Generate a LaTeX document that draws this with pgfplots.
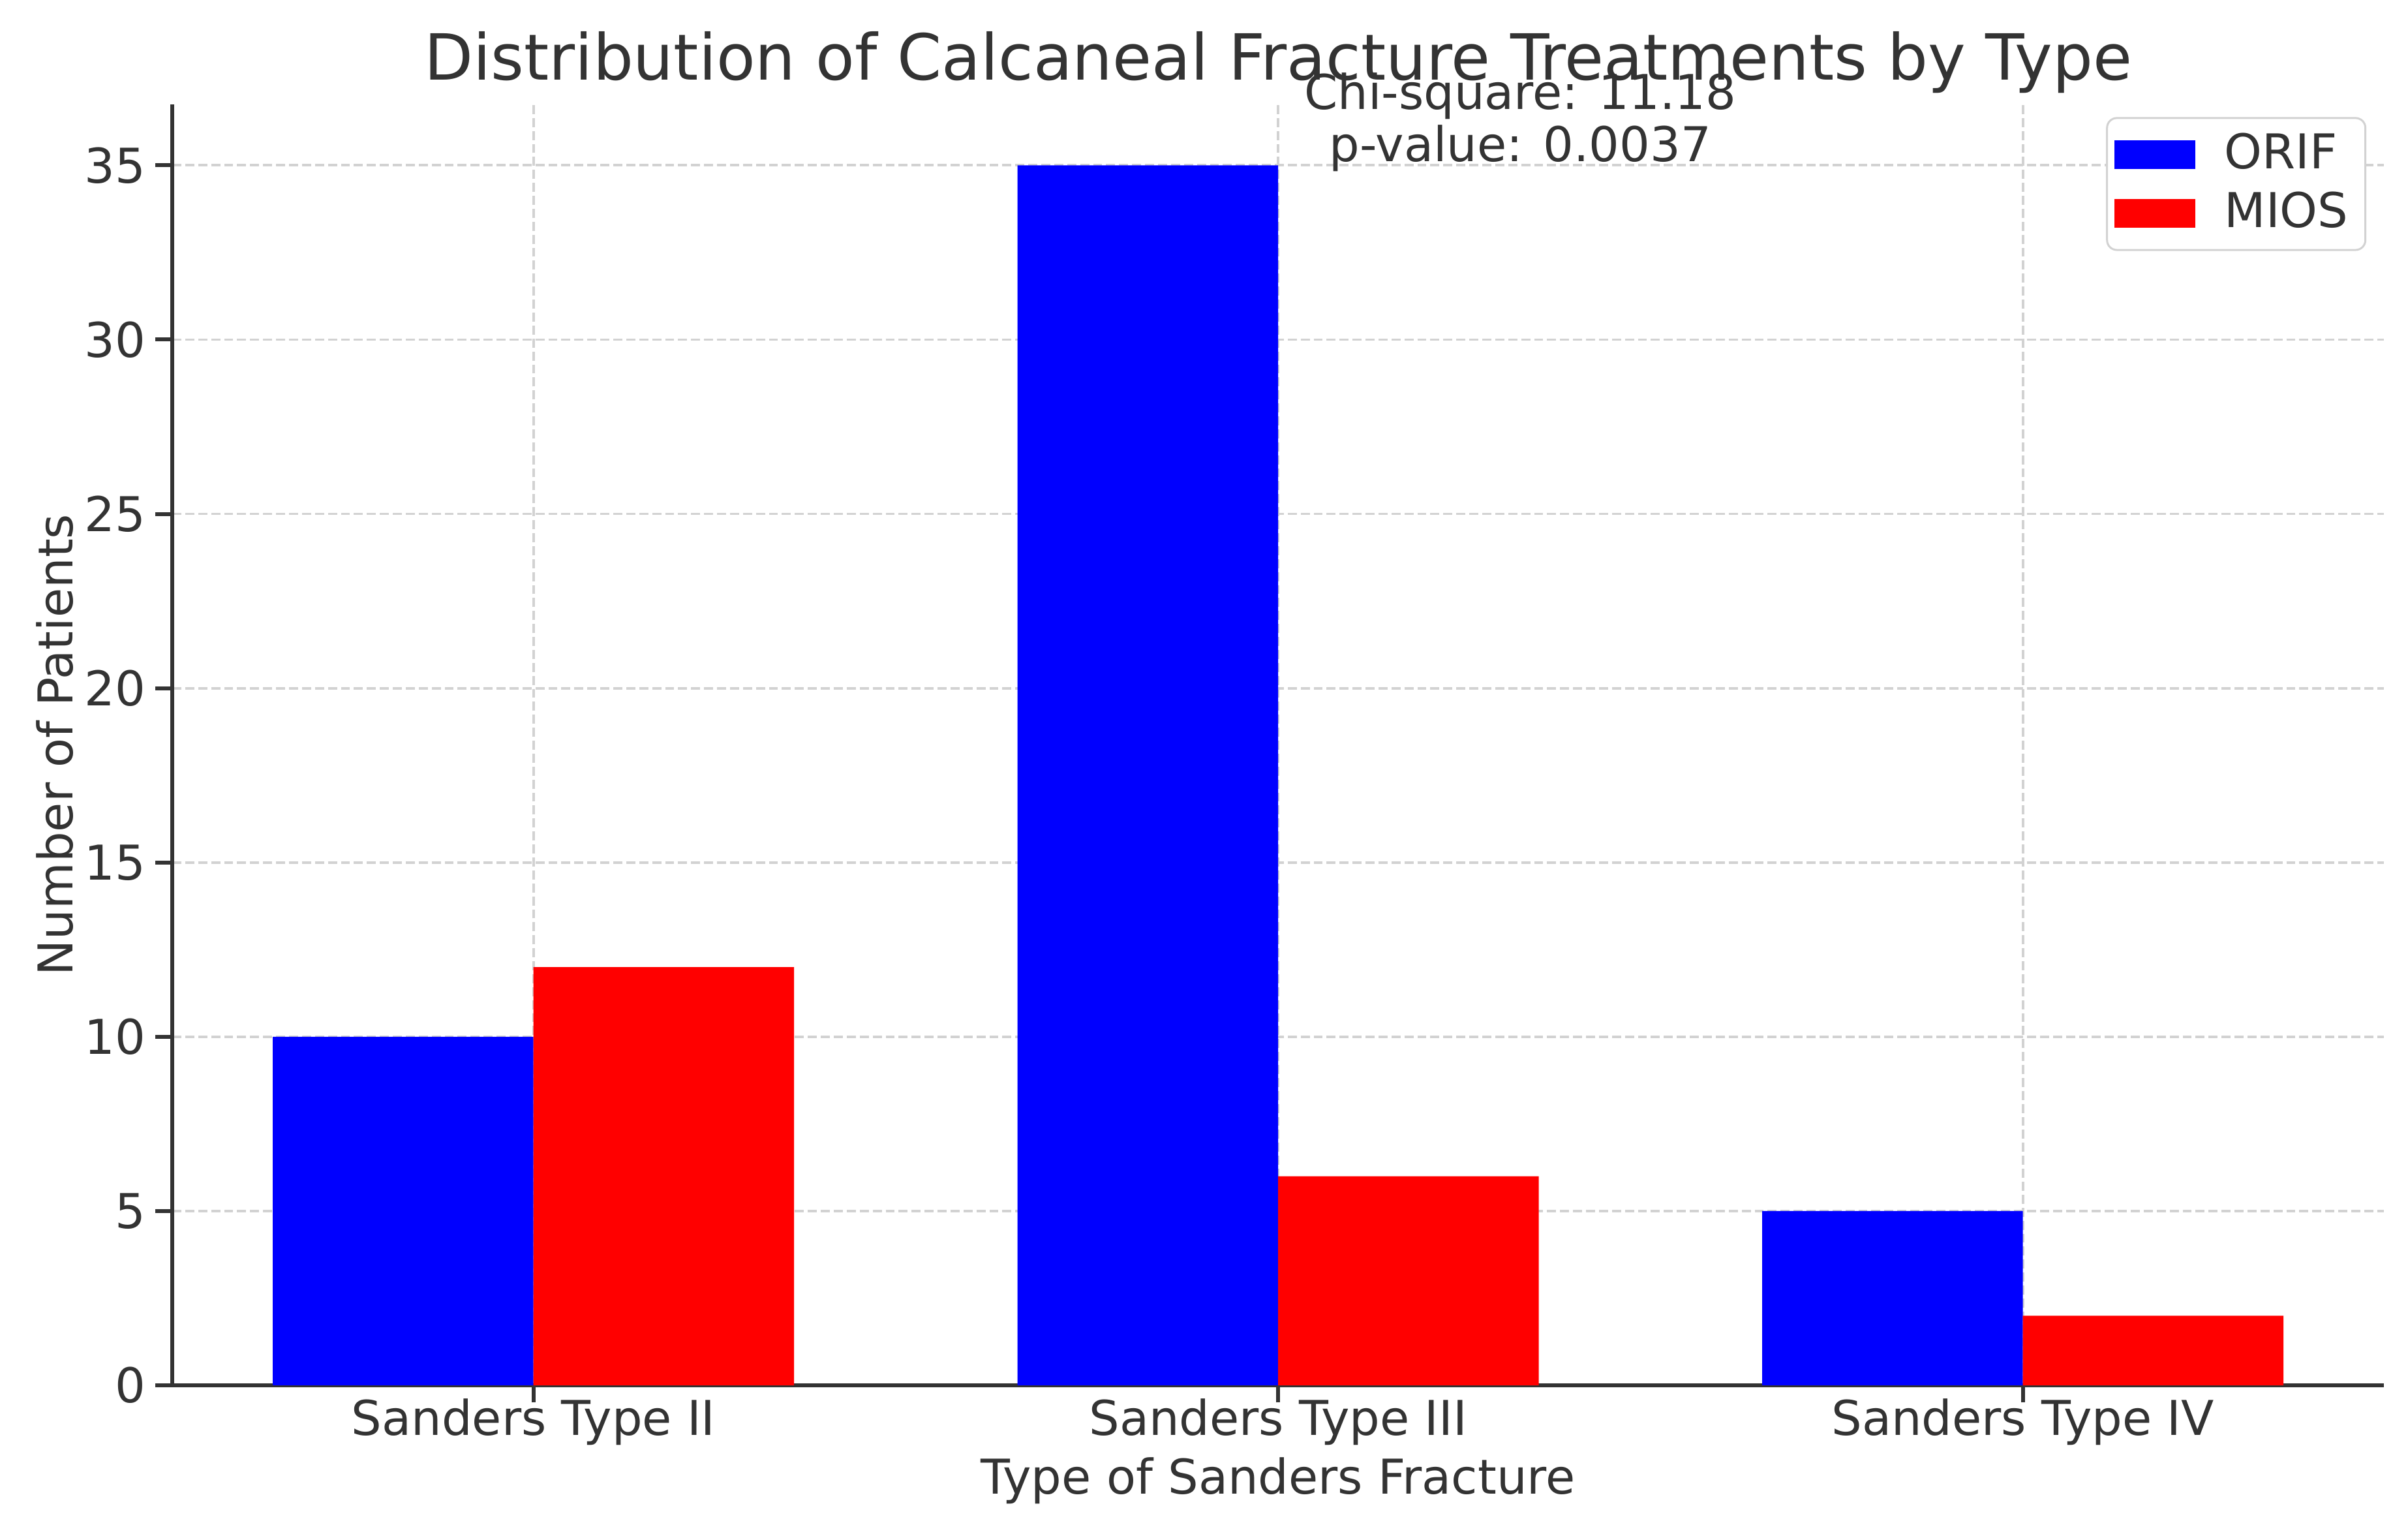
\documentclass[border=0pt]{standalone}
\usepackage{pgfplots}
\pgfplotsset{compat=1.18}
\usepackage{fontspec}
\setmainfont{DejaVu Sans}
\definecolor{txt}{HTML}{333333}
\definecolor{gridc}{HTML}{D2D2D2}

\begin{document}
\begin{tikzpicture}
\useasboundingbox (-35.2pt,-28pt) rectangle (456.8pt,283pt);
\begin{axis}[
    scale only axis,
    width=451.9pt, height=261.7pt,
    clip=false,
    ybar, bar width=0.35,
    xmin=-0.485, xmax=2.485,
    ymin=0, ymax=36.75,
    xtick={0,1,2},
    xticklabels={Sanders Type II, Sanders Type III, Sanders Type IV},
    ytick={0,5,...,35},
    axis x line*=bottom, axis y line*=left,
    axis line style={black!80, line width=0.8pt},
    tick align=outside,
    major tick length=3.5pt,
    tick style={black!80, line width=0.8pt},
    grid=major,
    major grid style={gridc, dash pattern=on 1.85pt off 0.8pt, line width=0.5pt},
    /pgf/number format/assume math mode=true,
    tick label style={font=\fontsize{9.8}{12}\selectfont, text=txt},
    xticklabel style={yshift=4.3pt},
    yticklabel style={xshift=1.6pt},
    title={Distribution of Calcaneal Fracture Treatments by Type},
    title style={font=\fontsize{13}{15}\selectfont, text=txt, at={(0.5,1)}, yshift=2.5pt, anchor=center},
    xlabel={Type of Sanders Fracture},
    ylabel={Number of Patients},
    label style={font=\fontsize{9.8}{12}\selectfont, text=txt},
    xlabel style={at={(0.5,0)}, yshift=-19.5pt, anchor=center},
    ylabel style={at={(0,0.5)}, yshift=24pt, anchor=center},
    legend style={at={(0.992,0.99)}, anchor=north east, draw=gray!35, rounded corners=2pt,
        font=\fontsize{9.8}{12}\selectfont, text=txt, row sep=0pt, column sep=4pt,
        inner xsep=1.5pt, inner ysep=1.5pt,
        nodes={inner xsep=2pt, inner ysep=1.6pt}},
    legend cell align=left,
    legend image code/.code={\fill[#1, sharp corners] (0pt,-2.9pt) rectangle (16.5pt,2.9pt);},
]
\addplot[fill=blue, draw=none, bar shift=-0.175] coordinates {(0,10) (1,35) (2,5)};
\addlegendentry{ORIF}
\addplot[fill=red, draw=none, bar shift=0.175] coordinates {(0,12) (1,6) (2,2)};
\addlegendentry{MIOS}
\node[align=center, anchor=south, inner sep=0pt, text=txt,
      font=\fontsize{9.8}{10.6}\selectfont] at (axis cs:1.325,34.8)
      {Chi-square: 11.18\\p-value: 0.0037};
\end{axis}
\end{tikzpicture}
\end{document}
